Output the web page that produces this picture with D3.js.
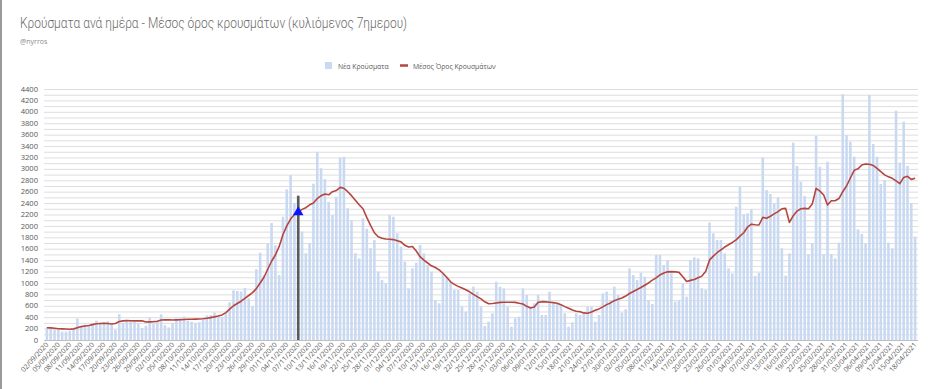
<!DOCTYPE html>
<html>
<head>
<meta charset="utf-8">
<script src="https://cdn.jsdelivr.net/npm/d3@7"></script>
<style>
  body { margin: 0; background: #fff; }
  svg { display: block; font-family: 'Open Sans', sans-serif; }
</style>
</head>
<body>
<svg></svg>
<script>
/*
*  DATA
*/
let startDay = '2020-09-02'
let dayCount = 229

// Νέα Κρούσματα, one per day from 02/09/2020
let newCases = [
  222, 220, 187, 175, 146, 146, 164, 187, 374, 234,
  270, 260, 300, 340, 300, 310, 330, 270, 180, 450,
  300, 330, 340, 320, 290, 210, 250, 390, 280, 320,
  450, 260, 220, 300, 380, 390, 410, 340, 320, 300,
  310, 350, 430, 440, 480, 420, 400, 470, 660, 870,
  860, 850, 910, 730, 590, 1240, 1530, 1140, 1690, 2050,
  1660, 1140, 2160, 2640, 2890, 2400, 2500, 1900, 1520, 1700,
  2740, 3300, 3010, 2820, 2420, 2190, 2510, 3200, 3210, 2310,
  2100, 1520, 1430, 2130, 1950, 1610, 1750, 1200, 1050, 990,
  2190, 2160, 1870, 1636, 1373, 905, 1256, 1355, 1665, 1519,
  1315, 1197, 701, 643, 1168, 1110, 1022, 876, 876, 585,
  497, 818, 935, 847, 585, 245, 321, 468, 1022, 935,
  905, 585, 234, 380, 409, 905, 789, 585, 643, 789,
  438, 438, 847, 643, 643, 614, 468, 234, 310, 468,
  438, 468, 585, 585, 321, 438, 818, 847, 701, 935,
  789, 480, 538, 1256, 1139, 1051, 1180, 1110, 701, 631,
  1490, 1490, 1315, 1402, 1168, 672, 701, 993, 760, 1402,
  1449, 1431, 905, 876, 2060, 1870, 1753, 1753, 1519, 1256,
  1168, 2337, 2688, 2206, 2220, 2290, 1122, 1180, 3202, 2629,
  2559, 2396, 2500, 1607, 1128, 1519, 3459, 3050, 2775, 2524,
  1507, 1694, 3576, 3038, 1507, 3126, 1507, 1431, 1706, 4312,
  3593, 3476, 3214, 1940, 1858, 1694, 4295, 3436, 3214, 2734,
  2805, 1706, 1607, 4020, 3109, 3827, 3050, 2396, 1811
]

// Μέσος Όρος Κρουσμάτων
let avgCases = [
  216, 212, 205, 198, 195, 192, 188, 195, 215, 235,
  245, 255, 270, 285, 290, 292, 290, 280, 290, 325,
  335, 340, 338, 335, 335, 338, 315, 318, 322, 330,
  350, 355, 352, 350, 352, 355, 360, 364, 365, 366,
  368, 372, 380, 392, 405, 420, 440, 480, 540, 600,
  640, 680, 730, 780, 830, 900, 1000, 1100, 1240, 1380,
  1490, 1640, 1850, 2000, 2120, 2200, 2245, 2290, 2320, 2370,
  2400, 2480, 2530, 2560, 2545, 2600, 2620, 2675, 2660, 2600,
  2530, 2450, 2370, 2300, 2150, 2010, 1880, 1810, 1785, 1770,
  1765, 1760, 1740, 1720, 1660, 1630, 1640, 1560, 1460, 1400,
  1350, 1300, 1270, 1230, 1170, 1100, 1020, 975, 940, 910,
  880, 845, 800, 760, 720, 670, 635, 640, 650, 660,
  662, 662, 662, 660, 645, 630, 590, 560, 580, 660,
  672, 668, 662, 655, 645, 620, 585, 555, 526, 505,
  497, 475, 468, 490, 520, 545, 580, 620, 650, 690,
  713, 735, 770, 815, 850, 885, 920, 960, 1000, 1050,
  1090, 1140, 1175, 1195, 1198, 1195, 1185, 1110, 1025, 1045,
  1060, 1090, 1120, 1200, 1400, 1470, 1530, 1580, 1630, 1670,
  1710, 1755, 1820, 1880, 1980, 2030, 2020, 2016, 2150, 2135,
  2170, 2210, 2250, 2300, 2308, 2060, 2180, 2260, 2300, 2308,
  2300, 2384, 2658, 2610, 2541, 2366, 2442, 2442, 2480, 2600,
  2700, 2840, 2975, 3000, 3067, 3085, 3080, 3060, 3010, 2950,
  2895, 2860, 2834, 2790, 2740, 2850, 2870, 2816, 2834
]

let yTicks = [0, 200, 400, 600, 800, 1000, 1200, 1400, 1600, 1800, 2000, 2200,
  2400, 2600, 2800, 3000, 3200, 3400, 3600, 3800, 4000, 4200, 4400]
let gridStep = 100

// lockdown marker: day index, top of the bar, value of the triangle
let markerDay = [66]
let markerTop = [2530]
let markerPoint = [2240]

let titleText = 'Κρούσματα ανά ημέρα - Μέσος όρος κρουσμάτων (κυλιόμενος 7ημερου)'
let subText = '@nyrros'
let legendNames = ['Νέα Κρούσματα', 'Μέσος Όρος Κρουσμάτων']

/*
*  RUN
*/
let width = 928,
    height = 389

let svg = d3.select('svg').attr('width', width).attr('height', height)

let parse = d3.timeParse('%Y-%m-%d')
let fmt = d3.timeFormat('%d/%m/%Y')
let d0 = parse(startDay)
let days = d3.range(dayCount).map(i => d3.timeDay.offset(d0, i))

drawChart()

/*
*  HELPERS
*/
function drawChart(){
  let x = d3.scaleBand()
    .domain(days)
    .range([45, 917])
    .paddingInner(0.32)
    .paddingOuter(0.16)

  let y = d3.scaleLinear()
    .domain([0, 4400])
    .range([340, 89])

  // frame edge on the left
  svg.append('line')
    .attr('x1', 1).attr('x2', 1).attr('y1', 0).attr('y2', height)
    .attr('stroke', '#9a9a9a').attr('stroke-width', 2)

  // titles
  svg.append('text').text(titleText)
    .attr('x', 20).attr('y', 28)
    .attr('font-family', 'Roboto, sans-serif')
    .attr('font-weight', 300)
    .attr('font-size', 14)
    .attr('textLength', 387).attr('lengthAdjust', 'spacingAndGlyphs')
    .attr('fill', '#6b6b6b')
  svg.append('text').text(subText)
    .attr('x', 20).attr('y', 44)
    .attr('font-size', 7).attr('fill', '#8a8a8a')

  // grid
  let grid = d3.range(0, 4400 + 1, gridStep)
  svg.append('g').attr('class', 'grid')
    .selectAll('line')
    .data(grid)
    .enter()
    .append('line')
    .attr('x1', 44).attr('x2', 918)
    .attr('y1', d => y(d) + 0.5).attr('y2', d => y(d) + 0.5)
    .attr('stroke', '#dedede').attr('stroke-width', 1)

  // y labels
  svg.append('g').attr('class', 'ylabels')
    .selectAll('text')
    .data(yTicks)
    .enter()
    .append('text')
    .text(d => d)
    .attr('x', 38).attr('y', d => y(d) + 2.6)
    .attr('text-anchor', 'end')
    .attr('font-size', 7.6).attr('fill', '#595959')

  // bars
  svg.append('g').attr('class', 'bars')
    .selectAll('rect')
    .data(newCases)
    .enter()
    .append('rect')
    .attr('x', (d, i) => x(days[i]))
    .attr('width', x.bandwidth())
    .attr('y', d => y(d))
    .attr('height', d => y(0) - y(d))
    .attr('fill', '#c9d9f2')

  // x axis line
  svg.append('line')
    .attr('x1', 44).attr('x2', 918)
    .attr('y1', y(0) + 0.5).attr('y2', y(0) + 0.5)
    .attr('stroke', '#bfbfbf')

  // x labels, every 3rd day
  let half = x.bandwidth() / 2
  svg.append('g').attr('class', 'xlabels')
    .selectAll('text')
    .data(days.filter((d, i) => i % 3 == 0))
    .enter()
    .append('text')
    .text(d => fmt(d))
    .attr('transform', d => `translate(${x(d) + half + 2},${y(0) + 5}) rotate(-48)`)
    .attr('text-anchor', 'end')
    .attr('font-size', 7).attr('fill', '#595959')

  // lockdown marker line
  svg.append('g').attr('class', 'marker')
    .selectAll('line')
    .data(markerDay)
    .enter()
    .append('line')
    .attr('x1', d => x(days[d]) + half).attr('x2', d => x(days[d]) + half)
    .attr('y1', (d, i) => y(markerTop[i])).attr('y2', y(0))
    .attr('stroke', '#5a5a5a').attr('stroke-width', 2.6)

  // moving average
  let line = d3.line()
    .x((d, i) => x(days[i]) + half)
    .y(d => y(d))
  svg.append('path')
    .datum(avgCases)
    .attr('d', line)
    .attr('fill', 'none')
    .attr('stroke', '#b5453f')
    .attr('stroke-width', 1.6)
    .attr('stroke-linejoin', 'round')

  // triangle on the marker
  let tri = d3.symbol().type(d3.symbolTriangle).size(48)
  svg.append('g').selectAll('path')
    .data(markerDay)
    .enter()
    .append('path')
    .attr('d', tri)
    .attr('transform', (d, i) => `translate(${x(days[d]) + half},${y(markerPoint[i])})`)
    .attr('fill', '#0a14ff')

  drawLegend()
}

function drawLegend(){
  let l = svg.append('g').attr('class', 'legend')
  l.append('rect')
    .attr('x', 325).attr('y', 62).attr('width', 7).attr('height', 7)
    .attr('fill', '#c9d9f2')
  l.append('text').text(legendNames[0])
    .attr('x', 338).attr('y', 68.5)
    .attr('font-size', 6.8).attr('fill', '#595959')
  l.append('line')
    .attr('x1', 400).attr('x2', 408).attr('y1', 65.5).attr('y2', 65.5)
    .attr('stroke', '#b5453f').attr('stroke-width', 2.5)
  l.append('text').text(legendNames[1])
    .attr('x', 413).attr('y', 68.5)
    .attr('font-size', 6.8).attr('fill', '#595959')
}
</script>
</body>
</html>
